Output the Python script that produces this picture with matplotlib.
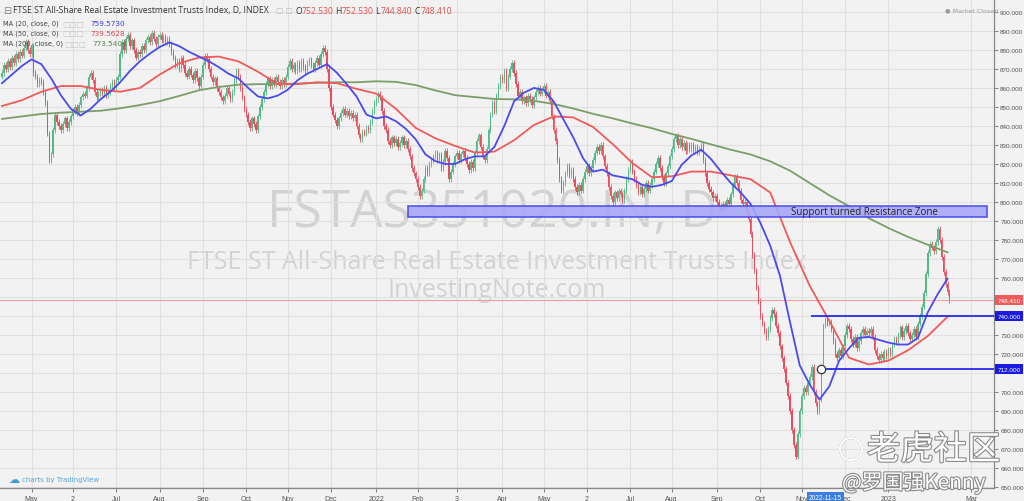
import numpy as np
import pandas as pd
import matplotlib.pyplot as plt
import matplotlib.patheffects as pe
from matplotlib.patches import Rectangle, Ellipse

# ==========================================
# DATA
# ==========================================
START_DATE = '2021-04-12'

# daily closes, one row = 10 sessions
closes = [
    868, 872, 870, 874, 871, 876, 873, 878, 875, 879,
    877, 881, 884, 880, 878, 882, 868, 866, 862, 864,
    863, 858, 852, 836, 822, 825, 838, 846, 842, 840,
    838, 841, 844, 839, 842, 845, 848, 850, 847, 851,
    855, 857, 856, 860, 866, 868, 864, 858, 855, 857,
    859, 857, 860, 856, 858, 861, 863, 860, 864, 866,
    878, 884, 880, 886, 888, 882, 885, 880, 876, 879,
    878, 882, 880, 885, 887, 884, 889, 886, 883, 887,
    888, 885, 887, 884, 886, 883, 879, 876, 872, 874,
    870, 876, 872, 868, 866, 870, 867, 864, 869, 865,
    861, 866, 872, 877, 875, 870, 866, 863, 865, 860,
    858, 855, 853, 856, 860, 857, 854, 858, 864, 869,
    866, 860, 855, 849, 846, 842, 839, 844, 841, 838,
    845, 850, 854, 858, 862, 865, 861, 864, 862, 866,
    863, 861, 864, 862, 866, 871, 874, 870, 872, 869,
    873, 870, 874, 871, 869, 873, 875, 872, 870, 873,
    876, 872, 878, 881, 879, 870, 860, 850, 846, 843,
    840, 844, 847, 849, 846, 848, 845, 847, 844, 846,
    840, 835, 833, 837, 836, 839, 838, 842, 848, 852,
    854, 857, 855, 848, 840, 838, 832, 830, 834, 831,
    833, 829, 831, 834, 830, 832, 828, 824, 818, 815,
    812, 808, 803, 806, 812, 818, 815, 820, 822, 824,
    826, 822, 825, 818, 821, 827, 823, 812, 816, 820,
    824, 826, 822, 825, 827, 823, 820, 817, 821, 818,
    826, 832, 835, 829, 824, 822, 828, 838, 846, 852,
    848, 856, 861, 866, 864, 869, 860, 866, 870, 873,
    868, 862, 856, 858, 853, 855, 852, 856, 854, 851,
    855, 858, 860, 857, 859, 861, 856, 858, 853, 845,
    838, 832, 822, 812, 806, 810, 815, 819, 814, 817,
    812, 808, 805, 809, 806, 812, 816, 819, 815, 818,
    822, 826, 829, 827, 830, 824, 819, 815, 808, 803,
    800, 805, 802, 806, 804, 801, 806, 812, 817, 821,
    816, 812, 809, 805, 808, 804, 807, 810, 806, 809,
    812, 816, 820, 823, 818, 813, 810, 815, 819, 824,
    828, 833, 835, 830, 833, 829, 831, 827, 830, 828,
    830, 827, 829, 826, 828, 830, 822, 815, 810, 807,
    805, 802, 803, 800, 798, 796, 799, 797, 801, 799,
    804, 809, 813, 810, 806, 801, 799, 800, 795, 791,
    783, 772, 764, 755, 748, 740, 736, 732, 729, 733,
    739, 743, 741, 735, 731, 724, 718, 712, 705, 698,
    690, 680, 672, 666, 678, 690, 698, 702, 700, 705,
    708, 713, 700, 694, 690, 696, 712, 735, 738, 736,
    737, 733, 727, 720, 718, 722, 719, 724, 730, 735,
    733, 728, 725, 729, 723, 727, 731, 733, 730, 732,
    731, 733, 729, 722, 719, 717, 720, 718, 721, 719,
    722, 720, 725, 728, 726, 730, 734, 729, 732, 735,
    731, 728, 730, 733, 729, 736, 740, 745, 752, 762,
    773, 778, 776, 774, 779, 786, 780, 771, 763, 757,
    752.53, 748.41,
]
first_open = 866.0

# MA(20): one reading every 5 sessions
MA20_STEP = 5
ma20 = [862.5, 867, 871.5, 875, 872.5, 865, 856, 849, 845.5, 849,
        854, 858, 863, 869, 874, 878, 881.5, 884, 882, 879,
        876.5, 874, 871, 867.5, 865, 860, 855.5, 854.5, 856, 859,
        864, 867.5, 870, 872.5, 868, 862, 855.5, 846, 844, 845,
        842.5, 838.5, 833, 825, 821.5, 820, 820, 822.5, 824, 824,
        829, 840, 853, 857.5, 860, 859, 853, 843.5, 834, 823,
        816, 817, 814, 813, 812, 809, 808, 809, 811, 819.5,
        824.5, 827.5, 822.5, 816, 810, 805, 799, 789, 777, 761,
        737, 714, 704, 696, 703, 716.5, 723, 728.5, 729, 727.5,
        726, 725, 725, 728.5, 742, 751.5, 759.6]

# MA(50) and MA(200): one reading every 10 sessions
MA_STEP = 10
ma50 = [850.5, 853.5, 858, 861, 861, 859, 858, 860, 867, 873,
        876, 876.5, 874, 868.5, 862, 862, 863, 862.5, 859.5, 857,
        849, 839, 833.5, 829.5, 826, 826.5, 832.5, 840.5, 845, 844.5,
        839.5, 830.5, 820.5, 813, 813.5, 816, 816, 814, 812, 805,
        779, 756, 737.5, 718, 714.5, 716.5, 722, 729.5, 739.6]
ma200 = [843.7, 845, 846.3, 847, 847.5, 848, 849.3, 851, 853, 855.8,
         858.8, 860.5, 861.7, 862, 862, 862.3, 862.7, 863, 863, 863.5,
         863.2, 861.5, 858.7, 856.2, 855.2, 854.2, 854, 853.2, 851.6, 849.2,
         846.4, 844, 841.3, 838.8, 835.8, 833.2, 830.3, 827.5, 825, 821.4,
         816.5, 810, 803.5, 797.8, 791.5, 786.3, 781.6, 777.5, 773.5]

last_ohlc = [752.530, 752.530, 744.840, 748.410]
ma_last = [759.5730, 739.5628, 773.5404]

# one label per month start, May 2021 .. Mar 2023 ('' = no tick shown)
month_labels = ['May', '2', 'Jul', 'Aug', 'Sep', 'Oct', 'Nov', 'Dec', '2022',
                'Feb', '3', 'Apr', 'May', '2', 'Jul', 'Aug', 'Sep', 'Oct',
                'Nov', 'Dec', '2023', '', 'Mar']

zone_low, zone_high = 792.0, 798.0
zone_start, zone_end = '2022-01-25', '2023-03-13'
res_level, res_start = 740.0, '2022-11-08'
sup_level, sup_start = 712.0, '2022-11-15'

# ==========================================
# PREP
# ==========================================
closes = np.array(closes, dtype=float)
opens = np.r_[first_open, closes[:-1]]
n = len(closes)
x = np.arange(n)
all_days = pd.bdate_range(START_DATE, '2023-03-31')
day_idx = {d.strftime('%Y-%m-%d'): i for i, d in enumerate(all_days)}

month_pos = []
prev = all_days[0].month
for i, d in enumerate(all_days):
    if d.month != prev:
        month_pos.append(i)
        prev = d.month
ticks = [(p, l) for p, l in zip(month_pos, month_labels) if l]

up = closes >= opens
UP, DOWN = '#53b987', '#eb4d5c'
cols = np.where(up, UP, DOWN)
wick = 1.5
highs = np.maximum(opens, closes) + wick
lows = np.minimum(opens, closes) - wick

BG = '#f2f2f2'
TXT = '#555555'
AXF = 'Liberation Sans'
X_MAX = 503.6

# ==========================================
# PLOT
# ==========================================
fig = plt.figure(figsize=(10.24, 5.02), dpi=100)
fig.patch.set_facecolor(BG)
ax = fig.add_axes([0, 13 / 502, 994 / 1024, 489 / 502])
ax.set_facecolor(BG)
ax.set_xlim(-1.0, X_MAX)
ax.set_ylim(649.5, 906.8)

ax.set_yticks(np.arange(650, 901, 10))
ax.set_xticks([p for p, l in ticks])
ax.set_xticklabels([l for p, l in ticks])
ax.grid(True, color='#e0e0e0', lw=0.8, zorder=0)
ax.yaxis.tick_right()
hidden = (res_level, 710.0)
ax.yaxis.set_major_formatter(plt.FuncFormatter(
    lambda v, p: '' if round(v) in hidden else f'{v:.3f}'))
ax.tick_params(axis='y', labelsize=4.6, colors='#888888', labelcolor=TXT, length=3, pad=1.5,
               labelfontfamily=AXF)
ax.tick_params(axis='x', labelsize=5, colors='#888888', labelcolor=TXT, length=3, pad=2,
               labelfontfamily=AXF)
for s in ['left', 'top']:
    ax.spines[s].set_visible(False)
for s in ['right', 'bottom']:
    ax.spines[s].set_color('#888888')
    ax.spines[s].set_linewidth(0.9)

# watermark
wm = '#d2d2d2'
ax.text(0.495, 0.564, 'FSTAS351020.IN, D', transform=ax.transAxes, ha='center', va='center',
        fontsize=37, color=wm, family='Open Sans', zorder=1)
ax.text(0.50, 0.464, 'FTSE ST All-Share Real Estate Investment Trusts Index', transform=ax.transAxes,
        ha='center', va='center', fontsize=18, color=wm, family='Open Sans', zorder=1)
ax.text(0.50, 0.405, 'InvestingNote.com', transform=ax.transAxes, ha='center', va='center',
        fontsize=18, color=wm, family='Open Sans', zorder=1)

# candles
ax.vlines(x, lows, highs, colors=cols, lw=0.6, zorder=2)
body = np.maximum(np.abs(closes - opens), 0.4)
ax.bar(x, body, bottom=np.minimum(opens, closes), width=0.72, color=cols, lw=0, zorder=3)

# moving averages
ax.plot(np.arange(0, n, MA_STEP), ma200, color='#7c9d6a', lw=1.3, zorder=4)
ax.plot(np.arange(0, n, MA_STEP), ma50, color='#f05a5a', lw=1.3, zorder=4)
ax.plot(np.arange(0, n, MA20_STEP), ma20, color='#4a4af0', lw=1.3, zorder=5)

# last price line
ax.axhline(last_ohlc[3], color='#f4a4a4', lw=0.8, zorder=2)

# support turned resistance zone
z0, z1 = day_idx[zone_start], day_idx[zone_end]
ax.add_patch(Rectangle((z0, zone_low), z1 - z0, zone_high - zone_low, facecolor='#a8a8f8',
                       edgecolor='#4848e8', lw=1.2, alpha=0.9, zorder=6))
ax.text(0.870, (zone_low + zone_high) / 2, 'Support turned Resistance Zone',
        transform=ax.get_yaxis_transform(), ha='center', va='center', fontsize=7,
        color='#222222', family='Open Sans', zorder=7)

# horizontal levels
r0 = day_idx[res_start]
ax.plot([r0, X_MAX], [res_level, res_level], color='#2a2ae8', lw=1.3, zorder=6)
s0 = day_idx[sup_start]
ax.plot([s0, X_MAX], [sup_level, sup_level], color='#2a2ae8', lw=1.3, zorder=6)
ax.plot([s0], [sup_level], marker='o', ms=6, mfc='white', mec='#333333', mew=0.9, zorder=7)

# price labels on axis
ytr = ax.get_yaxis_transform()
for val, fc in [(last_ohlc[3], '#f05a5a'), (res_level, '#1a1ae0'), (sup_level, '#1a1ae0')]:
    ax.text(1.0035, val, f'{val:.3f}', transform=ytr, ha='left', va='center', fontsize=4.6,
            color='white', family=AXF, clip_on=False, zorder=10,
            bbox=dict(boxstyle='square,pad=0.4', fc=fc, ec='none'))

# date label on x axis
ax.text(s0 + 2, -0.02, '2022-11-15', transform=ax.get_xaxis_transform(), ha='center', va='center',
        fontsize=4.8, color='white', family=AXF, clip_on=False, zorder=10,
        bbox=dict(boxstyle='square,pad=0.3', fc='#3b7de0', ec='none'))

# header texts
fig.text(3 / 1024, 1 - 11 / 502, '⊟', fontsize=7, color='#888888', va='center')
fig.text(13 / 1024, 1 - 11 / 502, 'FTSE ST All-Share Real Estate Investment Trusts Index, D, INDEX',
         fontsize=6.2, color='#333333', va='center', family='Open Sans')
fig.text(276 / 1024, 1 - 11 / 502, '□ □', fontsize=5.5, color='#bbbbbb', va='center')
xpos = 296
for lab, val in zip(['O', 'H', 'L', 'C'], last_ohlc):
    fig.text(xpos / 1024, 1 - 11 / 502, lab, fontsize=6.2, color='#333333', va='center', family='Open Sans')
    fig.text((xpos + 6) / 1024, 1 - 11 / 502, f'{val:.3f}', fontsize=6.2, color='#e05050', va='center',
             family='Open Sans')
    xpos += 39.5

rows = [('MA (20, close, 0)', ma_last[0], '#3a3ae0', 24, 90),
        ('MA (50, close, 0)', ma_last[1], '#e04848', 34, 90),
        ('MA (200, close, 0)', ma_last[2], '#5a8a4a', 44, 92)]
for lab, val, c, yy, xv in rows:
    fig.text(3 / 1024, 1 - yy / 502, lab, fontsize=4.8, color='#444444', va='center')
    fig.text((xv - 28) / 1024, 1 - yy / 502, '□□□', fontsize=5.5, color='#c4c4c4', va='center')
    fig.text(xv / 1024, 1 - yy / 502, f'{val:.4f}', fontsize=5.2, color=c, va='center')

fig.text(945 / 1024, 1 - 11 / 502, '● Market Closed', fontsize=4.6, color='#999999', va='center')
fig.text(8 / 1024, 1 - 480 / 502, '☁', fontsize=8, color='#3d9ad8', va='center')
fig.text(22 / 1024, 1 - 480 / 502, 'charts by TradingView', fontsize=5, color='#5ba4d8', va='center')

# bottom-right social watermark
stroke = [pe.withStroke(linewidth=1.6, foreground='#8a8a8a')]
fig.patches.append(Ellipse((851 / 1024, 1 - 450 / 502), 22 / 1024, 22 / 502, transform=fig.transFigure,
                           fill=False, ec='white', lw=1.6, path_effects=stroke))
fig.text(867 / 1024, 1 - 451 / 502, '老虎社区', fontsize=24, color='white', va='center',
         family=['Noto Sans CJK SC', 'DejaVu Sans'], path_effects=stroke)
fig.text(842 / 1024, 1 - 484 / 502, '@罗国强Kenny', fontsize=15, color='white', va='center',
         family=['Noto Sans CJK SC', 'DejaVu Sans'], path_effects=stroke)

plt.savefig('out.png', dpi=100, facecolor=BG)
